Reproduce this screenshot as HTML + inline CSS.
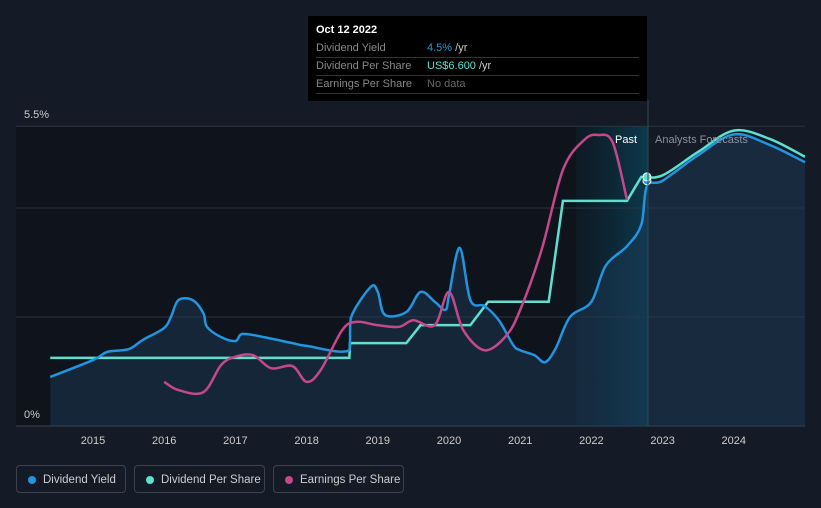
<!DOCTYPE html>
<html><head><meta charset="utf-8"><style>
body{margin:0;background:#151b26;font-family:"Liberation Sans",sans-serif;}
#c{position:relative;width:821px;height:508px;overflow:hidden}
.tt{position:absolute;left:308px;top:16px;width:339px;height:85px;background:#000;color:#ddd;font-size:11px}
.tt .r{position:absolute;left:8px;right:8px;height:17px;border-bottom:1px solid #333;line-height:17px;color:#888}
.leg{position:absolute;top:465px;height:28px;border:1px solid #3a4150;border-radius:4px;color:#ccc;font-size:11.5px;line-height:28px;box-sizing:border-box;padding-left:26px;white-space:nowrap}
.leg i{position:absolute;left:11px;top:10px;width:8px;height:8px;border-radius:50%}
</style></head><body><div id="c">
<svg id="s" width="821" height="508" style="position:absolute;left:0;top:0">
<defs><linearGradient id="pg" x1="0" x2="1"><stop offset="0" stop-color="#0d2a3a" stop-opacity="0.3"/><stop offset="1" stop-color="#0b3a4e"/></linearGradient></defs>
<rect x="16" y="126" width="632" height="300" fill="#0f131b"/>
<rect x="576" y="126" width="72" height="300" fill="url(#pg)"/>
<g id="grid"></g><g id="marks"></g>
<line x1="648" y1="100" x2="648" y2="426" stroke="#2a4a5a"/>
<text x="615" y="143" fill="#fff" font-size="11">Past</text>
<text x="655" y="143" fill="#8a919c" font-size="11">Analysts Forecasts</text>
<text x="24" y="118" fill="#ccc" font-size="11">5.5%</text>
<text x="24" y="418" fill="#ccc" font-size="11">0%</text>
</svg>
<div class="tt">
<div style="position:absolute;left:8px;top:8px;color:#fff;font-weight:bold">Oct 12 2022</div>
<div class="r" style="top:24px">Dividend Yield<span style="position:absolute;left:111px"><span style="color:#2394df">4.5%</span> <span style="color:#ccc">/yr</span></span></div>
<div class="r" style="top:42px">Dividend Per Share<span style="position:absolute;left:111px"><span style="color:#5ee0cf">US$6.600</span> <span style="color:#ccc">/yr</span></span></div>
<div class="r" style="top:60px">Earnings Per Share<span style="position:absolute;left:111px;color:#666">No data</span></div>
</div>
<div class="leg" style="left:16px;width:110px"><i style="background:#2394df"></i>Dividend Yield</div>
<div class="leg" style="left:134px;width:131px"><i style="background:#5ee0cf"></i>Dividend Per Share</div>
<div class="leg" style="left:273px;width:131px"><i style="background:#c4488a"></i>Earnings Per Share</div>
</div>
<script>
const yearTicks=[2015,2016,2017,2018,2019,2020,2021,2022,2023,2024];
const yieldX=[2014.4,2015,2015.2,2015.5,2015.7,2016,2016.1,2016.2,2016.4,2016.55,2016.6,2016.8,2017,2017.1,2017.4,2017.8,2018,2018.6,2018.62,2018.9,2019,2019.1,2019.4,2019.6,2019.8,2019.95,2020,2020.15,2020.3,2020.5,2020.7,2020.9,2021,2021.2,2021.35,2021.5,2021.7,2022,2022.2,2022.5,2022.7,2022.78,2023,2023.5,2024,2024.5,2025];
const yieldV=[0.9,1.21,1.36,1.41,1.58,1.8,2.02,2.31,2.31,2.07,1.82,1.63,1.56,1.69,1.63,1.52,1.47,1.39,1.98,2.55,2.46,2.04,2.09,2.46,2.28,2.13,2.4,3.27,2.31,2.2,1.94,1.49,1.39,1.3,1.17,1.43,2.0,2.28,2.94,3.3,3.69,4.4,4.5,4.97,5.35,5.16,4.84];
const dpsX=[2014.4,2018.6,2018.61,2019.4,2019.6,2020.3,2020.55,2021.4,2021.6,2022.5,2022.7];
const dpsV=[1.25,1.25,1.52,1.52,1.85,1.85,2.28,2.28,4.13,4.13,4.57];
const dpsFX=[2022.7,2023,2023.5,2024,2024.5,2025];
const dpsFV=[4.57,4.6,5.03,5.42,5.27,4.94];
const epsX=[2016,2016.2,2016.55,2016.8,2017,2017.25,2017.5,2017.8,2018,2018.2,2018.5,2018.7,2019,2019.3,2019.5,2019.8,2020,2020.2,2020.5,2020.8,2021,2021.3,2021.6,2021.9,2022.1,2022.3,2022.5];
const epsV=[0.81,0.66,0.62,1.12,1.27,1.3,1.06,1.1,0.81,1.03,1.76,1.91,1.85,1.82,1.94,1.85,2.46,1.76,1.39,1.65,2.13,3.23,4.7,5.25,5.34,5.2,4.15];
const X=y=>93+(y-2015)*71.2, Y=v=>426-v*54.5;
const NS='http://www.w3.org/2000/svg';
const g=document.getElementById('grid'),m=document.getElementById('marks');
function mk(p,t,a){const e=document.createElementNS(NS,t);for(const k in a)e.setAttribute(k,a[k]);p.appendChild(e);return e;}
[0,2,4,5.5].forEach(v=>{const l=mk(g,'line',{x1:16,x2:805,y1:Y(v),y2:Y(v),stroke:v==0?'#3a4150':'#2c3340'});

});
yearTicks.forEach(t=>{const e=mk(g,'text',{x:X(t),y:444,fill:'#ccc','font-size':11,'text-anchor':'middle'});e.textContent=t;

});
function smooth(xs,vs,noM){const p=xs.map((x,i)=>[X(x),Y(vs[i])]);let d=(noM?'L':'M')+p[0];for(let i=0;i<p.length-1;i++){const a=p[i-1]||p[i],b=p[i],c=p[i+1],e=p[i+2]||c;
const c1=[b[0]+(c[0]-a[0])/6,b[1]+(c[1]-a[1])/6],c2=[c[0]-(e[0]-b[0])/6,c[1]-(e[1]-b[1])/6];
c1[0]=Math.min(Math.max(c1[0],b[0]),c[0]);c2[0]=Math.min(Math.max(c2[0],b[0]),c[0]);d+='C'+c1+' '+c2+' '+c;}return d;}
function lin(xs,vs){return 'M'+xs.map((x,i)=>X(x)+','+Y(vs[i])).join('L');}
const yd=smooth(yieldX,yieldV);
const area=mk(m,'path',{d:yd+'L'+X(2025)+','+Y(0)+'L'+X(2014.4)+','+Y(0)+'Z',fill:'#1c3a56','fill-opacity':0.5});


const l1=mk(m,'path',{d:lin(dpsX,dpsV)+smooth(dpsFX,dpsFV,true),fill:'none',stroke:'#5ee0cf','stroke-width':2.5});


const l2=mk(m,'path',{d:yd,fill:'none',stroke:'#2394df','stroke-width':2.5});


const l3=mk(m,'path',{d:smooth(epsX,epsV),fill:'none',stroke:'#c4488a','stroke-width':2.5});


const d1=mk(m,'circle',{cx:X(2022.78),cy:Y(4.5),r:4,fill:'#2394df',stroke:'#fff'});


const d2=mk(m,'circle',{cx:X(2022.78),cy:Y(4.57),r:4,fill:'#5ee0cf',stroke:'#fff'});


</script></body></html>
